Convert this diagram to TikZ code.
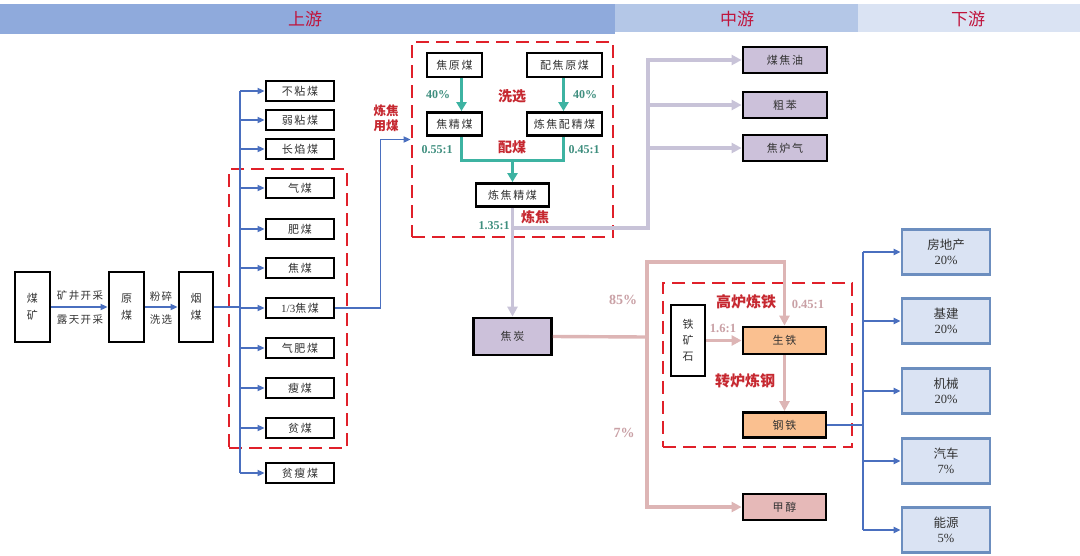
\documentclass[tikz,border=0pt]{standalone}
\usepackage{fontspec}
\setmainfont{Liberation Serif}
\newfontfamily\cjk{Noto Sans CJK SC}
\newfontfamily\cjksp[LetterSpace=14]{Noto Sans CJK SC}
\usetikzlibrary{arrows.meta}
\definecolor{hA}{HTML}{8FAADC}
\definecolor{hB}{HTML}{B4C7E7}
\definecolor{hC}{HTML}{DAE3F3}
\definecolor{htext}{HTML}{C0143C}
\definecolor{bl}{HTML}{4A6FBF}
\definecolor{lavl}{HTML}{C8C3D8}
\definecolor{lavf}{HTML}{CCC1DA}
\definecolor{pkl}{HTML}{DDB5B5}
\definecolor{orf}{HTML}{FAC090}
\definecolor{pkf}{HTML}{E6B9B8}
\definecolor{rbf}{HTML}{DAE3F3}
\definecolor{rbd}{HTML}{6C8EBF}
\definecolor{tl}{HTML}{3DB3A2}
\definecolor{tltext}{HTML}{3E8E7E}
\definecolor{pktext}{HTML}{C9A0A5}
\definecolor{redl}{HTML}{C62830}
\definecolor{dashred}{HTML}{E0202A}
\definecolor{txt}{HTML}{333333}
\tikzset{
  box/.style={draw=black, line width=2.8pt, inner sep=0pt, font=\cjksp\fontsize{11}{13}\selectfont, text=txt, align=center},
  coal/.style={box, minimum width=68pt, minimum height=20pt},
  rbox/.style={draw=rbd, fill=rbf, line width=2.6pt, inner sep=0pt, minimum width=88pt, minimum height=45pt, align=center, font=\fontsize{12.5}{15}\selectfont, text=txt},
  dashbox/.style={draw=dashred, line width=2.8pt, dash pattern=on 13pt off 7pt, inner sep=0pt},
  blc/.style={draw=bl, line width=1.8pt},
  blarr/.style={blc, -{Triangle[length=7pt,width=6pt]}},
  lavc/.style={draw=lavl, line width=3.4pt},
  lavarr/.style={lavc, -{Triangle[length=10pt,width=10pt]}},
  pkc/.style={draw=pkl, line width=3.4pt},
  pkarr/.style={pkc, -{Triangle[length=10pt,width=10pt]}},
  tlc/.style={draw=tl, line width=3pt},
  tlarr/.style={tlc, -{Triangle[length=9pt,width=10pt]}},
  redlab/.style={text=redl, font=\cjk\bfseries\fontsize{14}{16}\selectfont, align=center, inner sep=0pt},
  tllab/.style={text=tltext, font=\bfseries\fontsize{12}{14}\selectfont, inner sep=0pt},
  pklab/.style={text=pktext, font=\bfseries\fontsize{12.5}{14}\selectfont, inner sep=0pt},
  smlab/.style={text=txt, font=\cjksp\fontsize{10.5}{12}\selectfont, inner sep=0pt},
  hlab/.style={text=htext, font=\cjk\fontsize{17}{19}\selectfont, inner sep=0pt}
}
\begin{document}
\begin{tikzpicture}[x=1pt,y=-1pt]
\useasboundingbox (0,0) rectangle (1080,555);
% header
\fill[hA] (0,4) rectangle (615,34);
\fill[hB] (615,4) rectangle (858,32);
\fill[hC] (858,4) rectangle (1080,32);
\node[hlab] (hup) at (305,19) {上游};
\node[hlab] (hmid) at (737,19) {中游};
\node[hlab] (hdown) at (968,19) {下游};

% left chain
\node[box, minimum width=35pt, minimum height=70pt] (mk) at (32.5,307) {煤\\[4pt]矿};
\node[box, minimum width=35pt, minimum height=70pt] (ym) at (126.5,307) {原\\[4pt]煤};
\node[box, minimum width=34pt, minimum height=70pt] (yanm) at (196,307) {烟\\[4pt]煤};
\draw[blarr] (mk.east) -- (ym.west);
\draw[blarr] (ym.east) -- (yanm.west);
\node[smlab] (l1) at (80,296) {矿井开采};
\node[smlab] (l2) at (80,320) {露天开采};
\node[smlab] (l3) at (161,296) {粉碎};
\node[smlab] (l4) at (161,320) {洗选};

% coal types
\node[dashbox, minimum width=118pt, minimum height=279pt] (zoneL) at (288,308.5) {};
\node[coal] (c1) at (300,91) {不粘煤};
\node[coal] (c2) at (300,120) {弱粘煤};
\node[coal] (c3) at (300,149) {长焰煤};
\node[coal] (c4) at (300,188) {气煤};
\node[coal] (c5) at (300,229) {肥煤};
\node[coal] (c6) at (300,268) {焦煤};
\node[coal] (c7) at (300,308) {{\rmfamily 1/3}焦煤};
\node[coal] (c8) at (300,348) {气肥煤};
\node[coal] (c9) at (300,388) {瘦煤};
\node[coal] (c10) at (300,428) {贫煤};
\node[coal] (c11) at (300,473) {贫瘦煤};
\coordinate (t1) at (240,91);
\coordinate (t2) at (240,473);
\draw[blc] (yanm.east) -- (yanm.east -| t1);
\draw[blc] (t1) -- (t2);
\foreach \n in {c1,c2,c3,c4,c5,c6,c7,c8,c9,c10,c11} {
  \draw[blarr] (\n.west -| t1) -- (\n.west);
}

% coking zone
\node[dashbox, minimum width=201pt, minimum height=195pt] (zoneM) at (512.5,139.5) {};
\draw[blarr] (c7.east) -- ++(45,0) |- (zoneM.west);
\node[redlab, font=\cjk\bfseries\fontsize{12.5}{15}\selectfont] (lzym) at (386,118) {炼焦\\用煤};
\node[box, minimum width=55pt, minimum height=24pt] (jym) at (454.5,65) {焦原煤};
\node[box, minimum width=75pt, minimum height=24pt] (pjym) at (564.5,65) {配焦原煤};
\node[box, minimum width=55pt, minimum height=23pt] (jjm) at (454.5,124) {焦精煤};
\node[box, minimum width=75pt, minimum height=23pt] (lpj) at (564.5,124) {炼焦配精煤};
\node[box, minimum width=73pt, minimum height=23pt] (ljjm) at (512.5,195) {炼焦精煤};
\draw[tlarr] ([xshift=7pt]jym.south) -- ([xshift=7pt]jjm.north);
\draw[tlarr] ([xshift=-1pt]pjym.south) -- ([xshift=-1pt]lpj.north);
\coordinate (pm) at (512.5,160);
\draw[tlc] ([xshift=7pt]jjm.south) |- (pm) -| ([xshift=-1pt]lpj.south);
\draw[tlarr] (pm) -- (ljjm.north);
\node[tllab] (p40a) at (438,95) {40\%};
\node[tllab] (p40b) at (585,95) {40\%};
\node[redlab] (xx) at (512,96) {洗选};
\node[tllab] (r055) at (437,150) {0.55:1};
\node[tllab] (r045) at (584,150) {0.45:1};
\node[redlab] (pmlab) at (512,147) {配煤};
\node[redlab] (ljlab) at (535,217) {炼焦};
\node[tllab] (r135) at (494,226) {1.35:1};

% by-products
\node[box, fill=lavf, minimum width=84pt, minimum height=26pt] (mjy) at (785,60) {煤焦油};
\node[box, fill=lavf, minimum width=84pt, minimum height=26pt] (cb) at (785,105) {粗苯};
\node[box, fill=lavf, minimum width=84pt, minimum height=26pt] (jlq) at (785,148) {焦炉气};
\node[box, fill=lavf, minimum width=78pt, minimum height=37pt] (jt) at (512.5,336.5) {焦炭};
\coordinate (b1) at (512.5,228);
\coordinate (b2) at (648,228);
\draw[lavarr] (ljjm.south) -- (jt.north);
\draw[lavarr] (b1) -- (b2) |- (mjy.west);
\draw[lavarr] (cb.west -| b2) -- (cb.west);
\draw[lavarr] (jlq.west -| b2) -- (jlq.west);

% steel zone
\node[dashbox, minimum width=189pt, minimum height=164pt] (zoneS) at (757.5,365) {};
\node[box, fill=white, minimum width=34pt, minimum height=71pt] (tks) at (688,340.5) {铁\\[3pt]矿\\[3pt]石};
\node[box, fill=orf, minimum width=83pt, minimum height=27pt] (st) at (784.5,340.5) {生铁};
\node[box, fill=orf, minimum width=83pt, minimum height=25pt] (gt) at (784.5,425) {钢铁};
\node[box, fill=pkf, minimum width=83pt, minimum height=26pt] (jc) at (784.5,507) {甲醇};
\coordinate (pj) at (647,337);
\coordinate (ptop) at (647,262);
\draw[pkc] (jt.east) -- (pj);
\draw[pkarr] (pj) -- (ptop) -| (st.north);
\draw[pkarr] (pj) |- (jc.west);
\draw[pkarr] (tks.east |- st.west) -- (st.west);
\draw[pkarr] (st.south) -- (gt.north);
\node[pklab, font=\bfseries\fontsize{14}{16}\selectfont] (p85) at (623,300) {85\%};
\node[pklab, font=\bfseries\fontsize{14}{16}\selectfont] (p7) at (624,433) {7\%};
\node[pklab] (r16) at (723,328) {1.6:1};
\node[pklab] (r045b) at (808,304) {0.45:1};
\node[redlab, font=\cjk\bfseries\fontsize{15}{17}\selectfont] (glt) at (746,302) {高炉炼铁};
\node[redlab, font=\cjk\bfseries\fontsize{15}{17}\selectfont] (zlg) at (745,381) {转炉炼钢};

% downstream
\node[rbox] (d1) at (946,252) {{\cjk 房地产}\\20\%};
\node[rbox] (d2) at (946,321) {{\cjk 基建}\\20\%};
\node[rbox] (d3) at (946,391) {{\cjk 机械}\\20\%};
\node[rbox] (d4) at (946,461) {{\cjk 汽车}\\7\%};
\node[rbox] (d5) at (946,530) {{\cjk 能源}\\5\%};
\coordinate (t3) at (863,252);
\coordinate (t4) at (863,530);
\draw[blc] (gt.east) -- (gt.east -| t3);
\draw[blc] (t3) -- (t4);
\foreach \n in {d1,d2,d3,d4,d5} {
  \draw[blarr] (\n.west -| t3) -- (\n.west);
}
\end{tikzpicture}
\end{document}
